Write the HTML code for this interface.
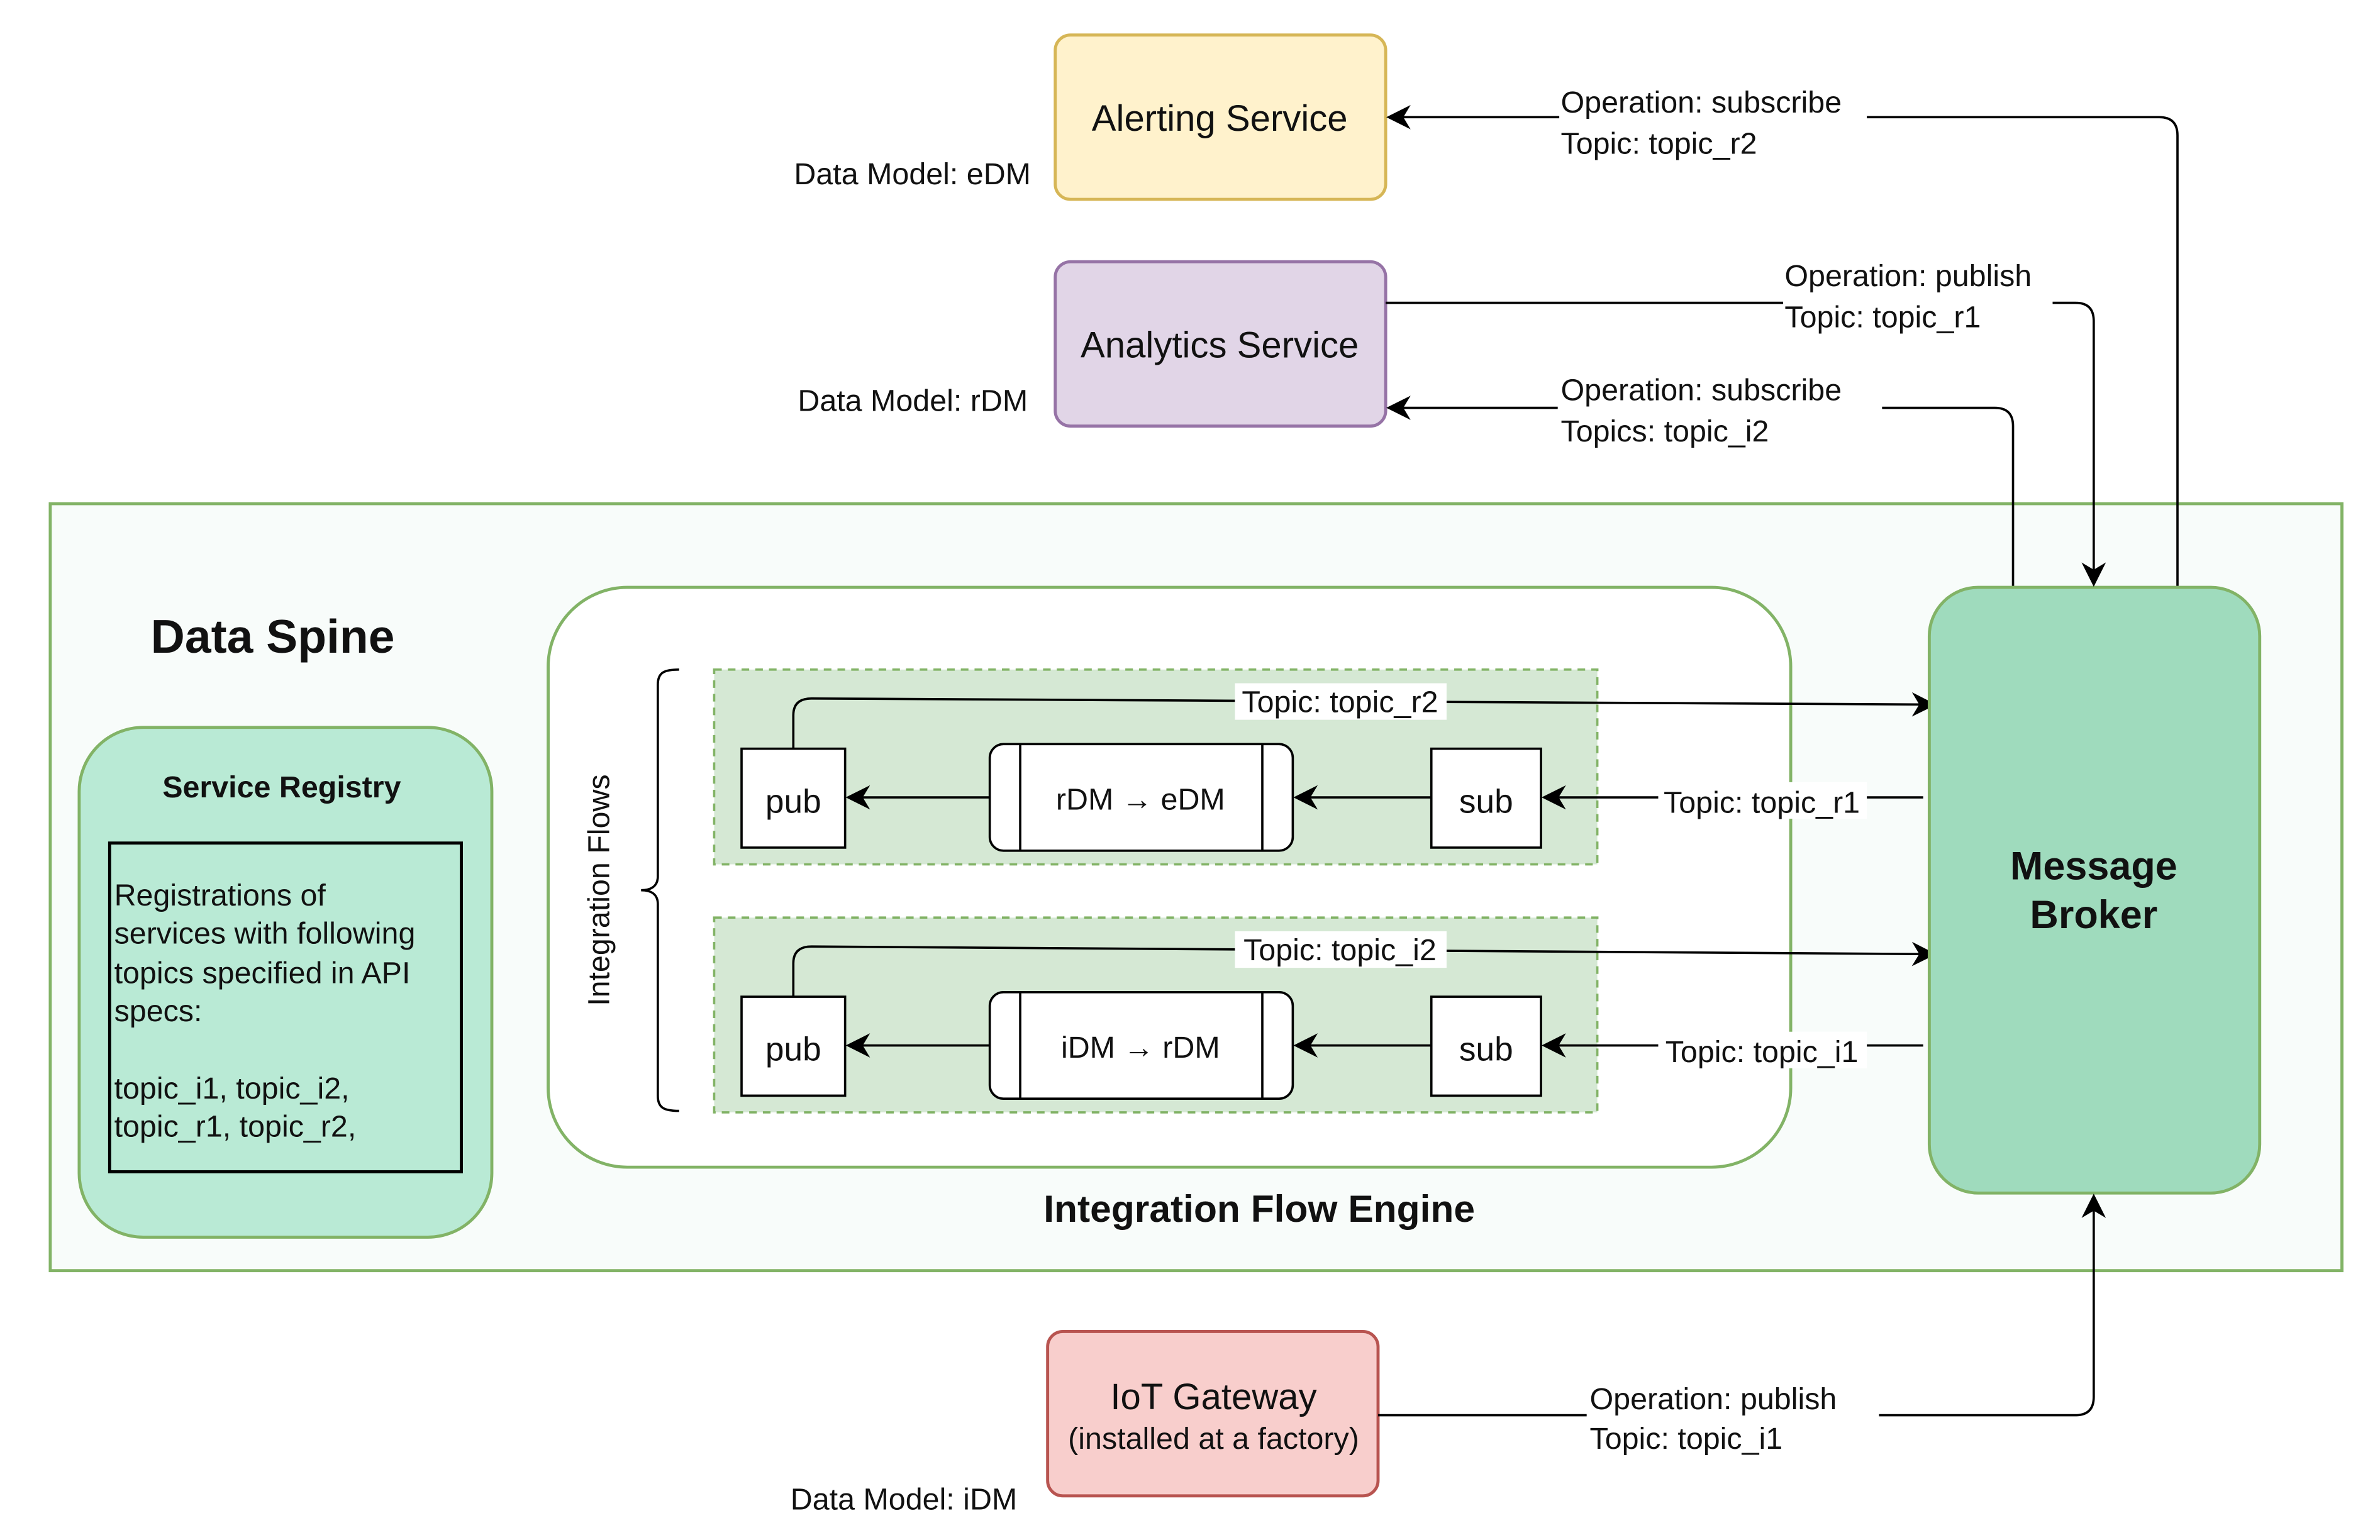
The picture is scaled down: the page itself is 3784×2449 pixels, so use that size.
<!DOCTYPE html>
<html><head><meta charset="utf-8"><style>
html,body{margin:0;padding:0;background:#fff;}
svg{display:block;}
text{font-family:"Liberation Sans",sans-serif;fill:#111;}
</style></head><body>
<svg width="3784" height="2449" viewBox="0 0 1563 1012" preserveAspectRatio="none" xmlns="http://www.w3.org/2000/svg">
<defs>
<marker id="b" viewBox="0 0 10 10" refX="9" refY="5" markerWidth="16" markerHeight="16" markerUnits="userSpaceOnUse" orient="auto">
<path d="M0,0 L10,5 L0,10 L3,5 Z" fill="#000"/></marker>
</defs>
<rect width="1563" height="1012" fill="#fff"/>
<rect x="693" y="23" width="217" height="108" rx="10" fill="#fff2cc" stroke="#d6b656" stroke-width="2"/>
<text x="801" y="86" font-size="24" text-anchor="middle">Alerting Service</text>
<rect x="693" y="172" width="217" height="108" rx="10" fill="#e1d5e7" stroke="#9673a6" stroke-width="2"/>
<text x="801" y="235" font-size="24" text-anchor="middle">Analytics Service</text>
<text x="677" y="121" font-size="20" text-anchor="end">Data Model: eDM</text>
<text x="675" y="270" font-size="20" text-anchor="end">Data Model: rDM</text>

<rect x="33" y="331" width="1505" height="504" fill="#f8fcfa" stroke="#82b366" stroke-width="2"/>
<text x="99" y="429" font-size="31" font-weight="bold">Data Spine</text>
<rect x="52" y="478" width="271" height="335" rx="42" fill="#b9ead5" stroke="#82b366" stroke-width="2"/>
<text x="185" y="524" font-size="20" font-weight="bold" text-anchor="middle">Service Registry</text>
<rect x="72" y="554" width="231" height="216" fill="none" stroke="#000" stroke-width="2"/>
<text font-size="20"><tspan x="75" y="595">Registrations of</tspan><tspan x="75" y="620">services with following</tspan><tspan x="75" y="646">topics specified in API</tspan><tspan x="75" y="671">specs:</tspan><tspan x="75" y="722">topic_i1, topic_i2,</tspan><tspan x="75" y="747">topic_r1, topic_r2,</tspan></text>

<rect x="360" y="386" width="816" height="381" rx="52" fill="#fff" stroke="#82b366" stroke-width="2"/>
<text x="827" y="803" font-size="25" font-weight="bold" text-anchor="middle">Integration Flow Engine</text>
<path d="M446,440 C436,440 432,442 432,450 L432,576 C432,582 428,585 421,585 C428,585 432,588 432,594 L432,720 C432,728 436,730 446,730" fill="none" stroke="#000" stroke-width="1.5"/>
<text transform="translate(400,585) rotate(-90)" font-size="20" text-anchor="middle">Integration Flows</text>

<rect x="469" y="440" width="580" height="128" fill="#d5e8d4" stroke="#82b366" stroke-width="1.5" stroke-dasharray="5,4"/>
<rect x="469" y="603" width="580" height="128" fill="#d5e8d4" stroke="#82b366" stroke-width="1.5" stroke-dasharray="5,4"/>

<rect x="487" y="492" width="68" height="65" fill="#fff" stroke="#000" stroke-width="1.5"/>
<text x="521" y="534" font-size="22" text-anchor="middle">pub</text>
<rect x="650" y="489" width="199" height="70" rx="9" fill="#fff" stroke="#000" stroke-width="1.5"/>
<line x1="670" y1="489" x2="670" y2="559" stroke="#000" stroke-width="1.5"/>
<line x1="829" y1="489" x2="829" y2="559" stroke="#000" stroke-width="1.5"/>
<text x="749" y="532" font-size="20" text-anchor="middle">rDM → eDM</text>
<rect x="940" y="492" width="72" height="65" fill="#fff" stroke="#000" stroke-width="1.5"/>
<text x="976" y="534" font-size="22" text-anchor="middle">sub</text>
<line x1="650" y1="524" x2="557" y2="524" stroke="#000" stroke-width="1.5" marker-end="url(#b)"/>
<line x1="940" y1="524" x2="851" y2="524" stroke="#000" stroke-width="1.5" marker-end="url(#b)"/>
<line x1="1263" y1="524" x2="1014" y2="524" stroke="#000" stroke-width="1.5" marker-end="url(#b)"/>
<path d="M521,492 L521,470 Q521,459 533,459 L1270,463" fill="none" stroke="#000" stroke-width="1.5" marker-end="url(#b)"/>
<rect x="811" y="449" width="139" height="24" fill="#fff"/>
<text x="880" y="468" font-size="20" text-anchor="middle">Topic: topic_r2</text>
<rect x="1089" y="514" width="137" height="24" fill="#fff"/>
<text x="1157" y="534" font-size="20" text-anchor="middle">Topic: topic_r1</text>

<rect x="487" y="655" width="68" height="65" fill="#fff" stroke="#000" stroke-width="1.5"/>
<text x="521" y="697" font-size="22" text-anchor="middle">pub</text>
<rect x="650" y="652" width="199" height="70" rx="9" fill="#fff" stroke="#000" stroke-width="1.5"/>
<line x1="670" y1="652" x2="670" y2="722" stroke="#000" stroke-width="1.5"/>
<line x1="829" y1="652" x2="829" y2="722" stroke="#000" stroke-width="1.5"/>
<text x="749" y="695" font-size="20" text-anchor="middle">iDM → rDM</text>
<rect x="940" y="655" width="72" height="65" fill="#fff" stroke="#000" stroke-width="1.5"/>
<text x="976" y="697" font-size="22" text-anchor="middle">sub</text>
<line x1="650" y1="687" x2="557" y2="687" stroke="#000" stroke-width="1.5" marker-end="url(#b)"/>
<line x1="940" y1="687" x2="851" y2="687" stroke="#000" stroke-width="1.5" marker-end="url(#b)"/>
<line x1="1263" y1="687" x2="1014" y2="687" stroke="#000" stroke-width="1.5" marker-end="url(#b)"/>
<path d="M521,655 L521,633 Q521,622 533,622 L1270,627" fill="none" stroke="#000" stroke-width="1.5" marker-end="url(#b)"/>
<rect x="811" y="612" width="139" height="24" fill="#fff"/>
<text x="880" y="631" font-size="20" text-anchor="middle">Topic: topic_i2</text>
<rect x="1089" y="678" width="137" height="24" fill="#fff"/>
<text x="1157" y="698" font-size="20" text-anchor="middle">Topic: topic_i1</text>

<rect x="1267" y="386" width="217" height="398" rx="32" fill="#9fdbbd" stroke="#82b366" stroke-width="2"/>
<text x="1375" y="578" font-size="26" font-weight="bold" text-anchor="middle">Message</text>
<text x="1375" y="610" font-size="26" font-weight="bold" text-anchor="middle">Broker</text>

<path d="M1430,385 L1430,89 Q1430,77 1418,77 L912,77" fill="none" stroke="#000" stroke-width="1.5" marker-end="url(#b)"/>
<rect x="1024" y="55" width="202" height="52" fill="#fff"/>
<text font-size="20"><tspan x="1025" y="74">Operation: subscribe</tspan><tspan x="1025" y="101">Topic: topic_r2</tspan></text>

<path d="M910,199 L1363,199 Q1375,199 1375,211 L1375,384" fill="none" stroke="#000" stroke-width="1.5" marker-end="url(#b)"/>
<rect x="1171" y="169" width="177" height="52" fill="#fff"/>
<text font-size="20"><tspan x="1172" y="188">Operation: publish</tspan><tspan x="1172" y="215">Topic: topic_r1</tspan></text>

<path d="M1322,385 L1322,280 Q1322,268 1310,268 L912,268" fill="none" stroke="#000" stroke-width="1.5" marker-end="url(#b)"/>
<rect x="1023" y="244" width="213" height="52" fill="#fff"/>
<text font-size="20"><tspan x="1025" y="263">Operation: subscribe</tspan><tspan x="1025" y="290">Topics: topic_i2</tspan></text>

<rect x="688" y="875" width="217" height="108" rx="10" fill="#f8cecc" stroke="#b85450" stroke-width="2"/>
<text x="797" y="926" font-size="24" text-anchor="middle">IoT Gateway</text>
<text x="797" y="952" font-size="20" text-anchor="middle">(installed at a factory)</text>
<text x="668" y="992" font-size="20" text-anchor="end">Data Model: iDM</text>
<path d="M905,930 L1363,930 Q1375,930 1375,918 L1375,786" fill="none" stroke="#000" stroke-width="1.5" marker-end="url(#b)"/>
<rect x="1042" y="906" width="192" height="52" fill="#fff"/>
<text font-size="20"><tspan x="1044" y="926">Operation: publish</tspan><tspan x="1044" y="952">Topic: topic_i1</tspan></text>
</svg>
</body></html>
